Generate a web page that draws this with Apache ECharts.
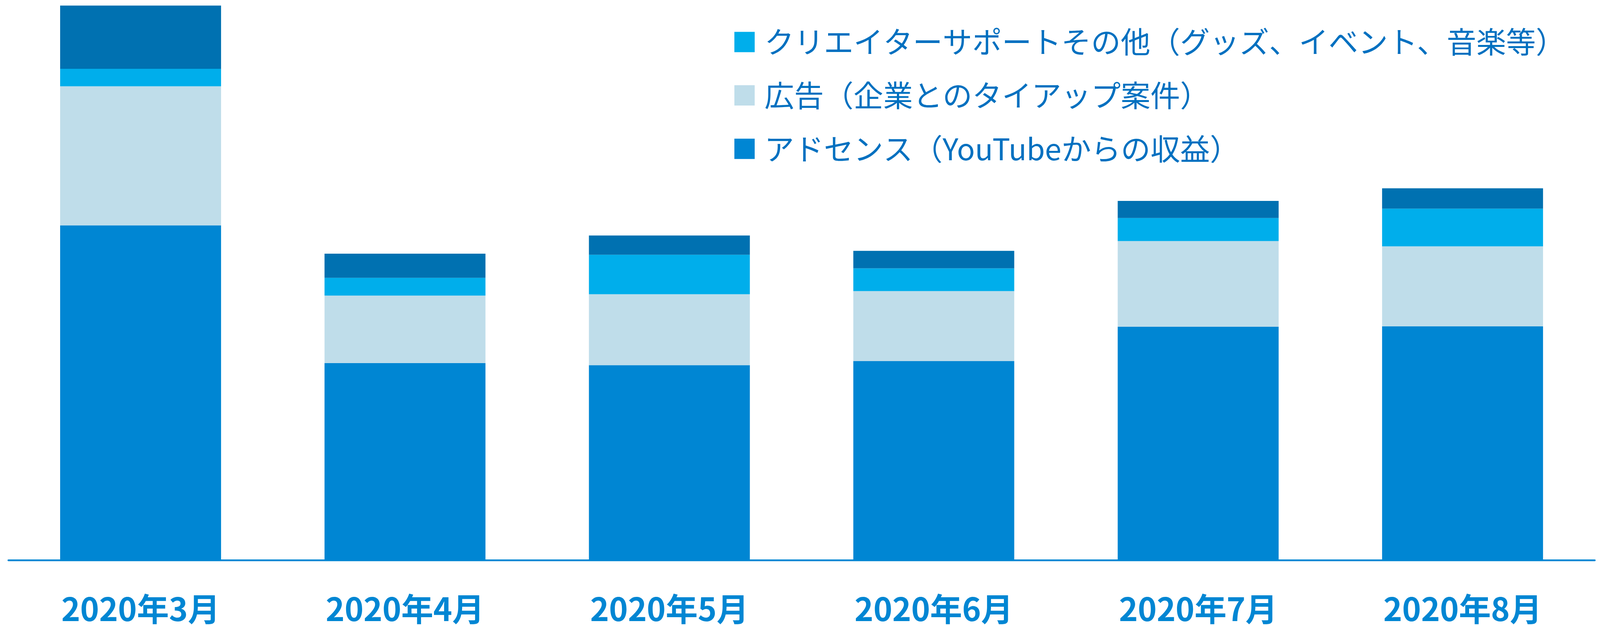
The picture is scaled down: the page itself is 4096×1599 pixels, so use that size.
<!DOCTYPE html>
<html>
<head>
<meta charset="utf-8">
<script src="https://cdn.jsdelivr.net/npm/echarts@6/dist/echarts.min.js"></script>
<style>
html,body{margin:0;padding:0;background:#fff;}
#chart{width:4096px;height:1599px;}
</style>
</head>
<body>
<div id="chart"></div>
<script>
const categories = ['2020年3月','2020年4月','2020年5月','2020年6月','2020年7月','2020年8月'];
const adsense = [95.8, 56.4, 55.8, 57.0, 66.8, 66.9];
const ads = [39.8, 19.3, 20.3, 20.0, 24.5, 22.9];
const creator = [5.0, 5.1, 11.3, 6.5, 6.6, 10.8];
const other = [18.1, 6.9, 5.5, 5.0, 4.9, 5.8];
const names = ['アドセンス（YouTubeからの収益）','広告（企業とのタイアップ案件）','クリエイターサポートその他（グッズ、イベント、音楽等）','その他'];

const chart = echarts.init(document.getElementById('chart'));
chart.setOption({
  animation: false,
  grid: {left: 21.5, right: 13.4, top: 0, bottom: 162.7, containLabel: false},
  legend: {
    data: [names[2], names[1], names[0]],
    orient: 'vertical',
    left: 1880,
    top: 50.5,
    padding: 0,
    itemWidth: 52,
    itemHeight: 52,
    itemGap: 22.6,
    icon: 'rect',
    selectedMode: false,
    textStyle: {
      fontFamily: '"Noto Sans CJK JP", sans-serif',
      fontSize: 76,
      lineHeight: 76,
      color: '#0070C0',
      padding: [0, 0, 38, 20]
    }
  },
  xAxis: {
    type: 'category',
    data: categories,
    axisLine: {show: true, lineStyle: {color: '#0086D3', width: 4.5}},
    axisTick: {show: false},
    axisLabel: {
      margin: 84,
      fontFamily: '"Noto Sans CJK JP", sans-serif',
      fontWeight: 'bold',
      fontSize: 82,
      lineHeight: 82,
      color: '#0086D3'
    }
  },
  yAxis: {
    type: 'value', min: 0, max: 160.3,
    show: false, splitLine: {show: false}
  },
  series: [
    {name: names[0], type: 'bar', stack: 's', data: adsense, barWidth: 412, itemStyle: {color: '#0086D3'}},
    {name: names[1], type: 'bar', stack: 's', data: ads, barWidth: 412, itemStyle: {color: '#BFDDEA'}},
    {name: names[2], type: 'bar', stack: 's', data: creator, barWidth: 412, itemStyle: {color: '#00AEEB'}},
    {name: names[3], type: 'bar', stack: 's', data: other, barWidth: 412, itemStyle: {color: '#0071B1'}}
  ]
});
</script>
</body>
</html>
